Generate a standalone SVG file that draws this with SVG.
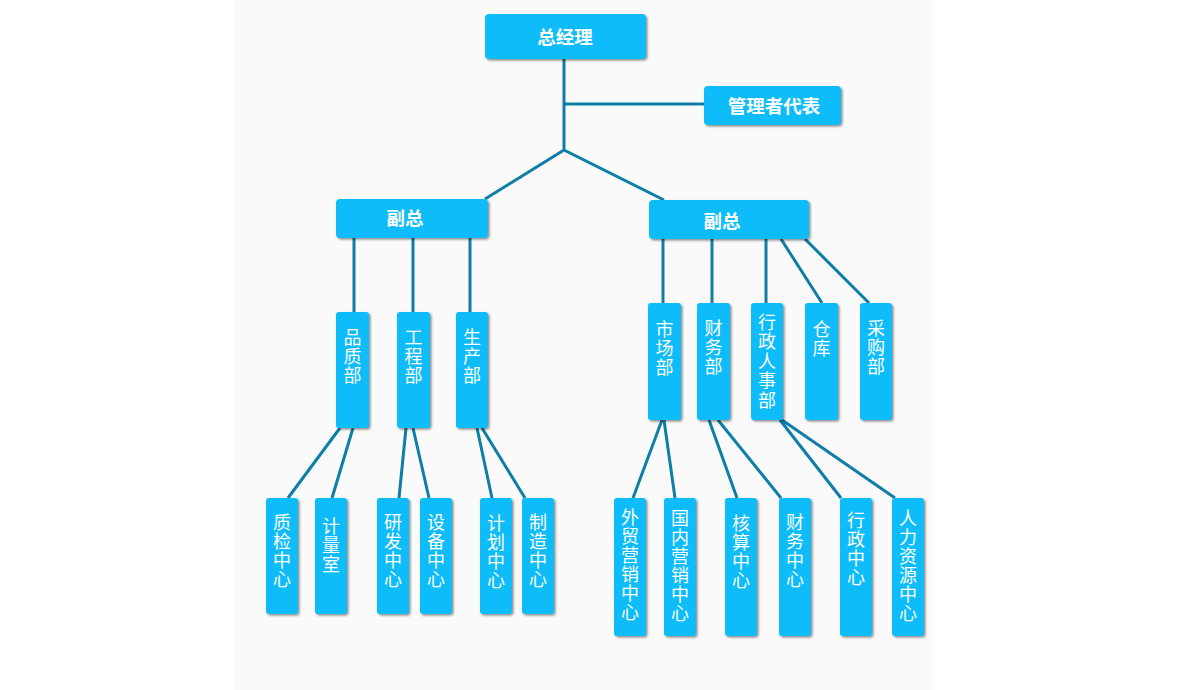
<svg xmlns="http://www.w3.org/2000/svg" width="1200" height="690" viewBox="0 0 1200 690">
<defs>
<filter id="sh" x="-20%" y="-20%" width="140%" height="140%">
<feDropShadow dx="1.5" dy="1.5" stdDeviation="1" flood-color="#000" flood-opacity="0.45"/>
</filter>
<style>
.box{fill:#0abcf9;filter:url(#sh)}
.t{fill:#fff;font-family:"Noto Sans CJK SC","Noto Sans",sans-serif;font-size:18px;text-anchor:middle}
.h{font-weight:bold;font-size:18.5px}
.v{fill:#fff;font-family:"Noto Sans CJK SC","Noto Sans",sans-serif;font-size:18px;writing-mode:vertical-rl;text-anchor:start;letter-spacing:1px}
.c{stroke:#0e7ea6;stroke-width:3;fill:none}
</style>
</defs>
<rect x="0" y="0" width="1200" height="690" fill="#ffffff"/>
<rect x="233" y="0" width="700" height="690" fill="#fafafa"/>
<g id="connectors" class="c">
<path d="M564,59 V150 M564,104 H704 M564,150 L485,199 M564,150 L664,200"/>
<path d="M354,238 V312 M413,238 V312 M470,238 V312"/>
<path d="M663,239 V303 M712,239 V303 M766,239 V303 M781,239 L822,303 M805,239 L869,303"/>
<path d="M340,428 L288,498 M353,428 L332,498 M406,428 L399,498 M413,428 L429,498 M477,428 L492,498 M482,428 L525,498"/>
<path d="M662,420 L633,498 M664,420 L675,498 M709,420 L737,498 M718,420 L781,498 M780,420 L841,498 M782,420 L895,498"/>
</g>
<g id="n-top"><rect class="box" x="485" y="14" width="161" height="45" rx="4"/><text class="t h" x="565" y="44">总经理</text></g>
<g id="n-mgr"><rect class="box" x="704" y="86" width="137" height="39" rx="4"/><text class="t h" x="774" y="113">管理者代表</text></g>
<g id="n-vpL"><rect class="box" x="336" y="199" width="152" height="39" rx="4"/><text class="t h" x="405" y="225">副总</text></g>
<g id="n-vpR"><rect class="box" x="649" y="200" width="160" height="39" rx="4"/><text class="t h" x="722" y="228">副总</text></g>

<g id="n-pz"><rect class="box" x="336" y="312" width="33" height="116" rx="3"/><text class="v" x="352.5" y="328">品质部</text></g>
<g id="n-gc"><rect class="box" x="397" y="312" width="33" height="116" rx="3"/><text class="v" x="413.5" y="328">工程部</text></g>
<g id="n-sc"><rect class="box" x="456" y="312" width="32" height="116" rx="3"/><text class="v" x="472" y="328">生产部</text></g>

<g id="n-scb"><rect class="box" x="648" y="303" width="33" height="117" rx="3"/><text class="v" x="664.5" y="320">市场部</text></g>
<g id="n-cwb"><rect class="box" x="697" y="303" width="33" height="117" rx="3"/><text class="v" x="713.5" y="319">财务部</text></g>
<g id="n-xzrs"><rect class="box" x="751" y="303" width="32" height="117" rx="3"/><text class="v" x="767" y="313" style="letter-spacing:1.5px">行政人事部</text></g>
<g id="n-ck"><rect class="box" x="805" y="303" width="33" height="117" rx="3"/><text class="v" x="821.5" y="320">仓库</text></g>
<g id="n-cg"><rect class="box" x="860" y="303" width="32" height="117" rx="3"/><text class="v" x="876" y="319">采购部</text></g>

<g id="n-zj"><rect class="box" x="266" y="498" width="32" height="116" rx="3"/><text class="v" x="282" y="513">质检中心</text></g>
<g id="n-jl"><rect class="box" x="315" y="498" width="32" height="116" rx="3"/><text class="v" x="331" y="517">计量室</text></g>
<g id="n-yf"><rect class="box" x="377" y="498" width="32" height="116" rx="3"/><text class="v" x="393" y="513">研发中心</text></g>
<g id="n-sb"><rect class="box" x="420" y="498" width="32" height="116" rx="3"/><text class="v" x="436" y="513">设备中心</text></g>
<g id="n-jh"><rect class="box" x="480" y="498" width="32" height="116" rx="3"/><text class="v" x="496" y="514">计划中心</text></g>
<g id="n-zz"><rect class="box" x="522" y="498" width="32" height="116" rx="3"/><text class="v" x="538" y="513">制造中心</text></g>

<g id="n-wm"><rect class="box" x="614" y="498" width="32" height="138" rx="3"/><text class="v" x="630" y="508">外贸营销中心</text></g>
<g id="n-gn"><rect class="box" x="664" y="498" width="32" height="138" rx="3"/><text class="v" x="680" y="509">国内营销中心</text></g>
<g id="n-hs"><rect class="box" x="725" y="498" width="32" height="138" rx="3"/><text class="v" x="741" y="514">核算中心</text></g>
<g id="n-cwzx"><rect class="box" x="779" y="498" width="32" height="138" rx="3"/><text class="v" x="795" y="513">财务中心</text></g>
<g id="n-xz"><rect class="box" x="840" y="498" width="32" height="138" rx="3"/><text class="v" x="856" y="511">行政中心</text></g>
<g id="n-rl"><rect class="box" x="892" y="498" width="32" height="138" rx="3"/><text class="v" x="908" y="509">人力资源中心</text></g>
</svg>
